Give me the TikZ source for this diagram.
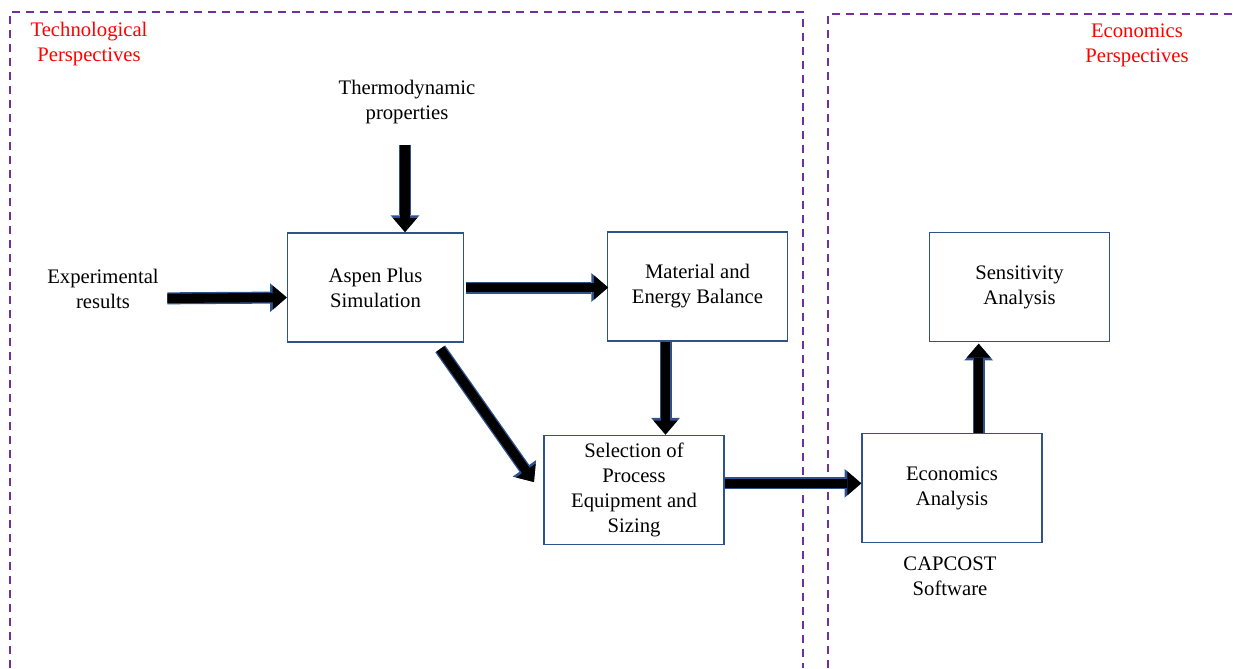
\documentclass[tikz,border=0pt]{standalone}
\usepackage{fontspec}
\setmainfont{Liberation Serif}
\usepackage{tikz}
\usetikzlibrary{arrows.meta}
\usepackage{xcolor}
\definecolor{boxblue}{RGB}{47,82,143}
\definecolor{dashpurple}{RGB}{112,48,160}

\tikzset{
    stage/.style={draw=boxblue, line width=1.1pt, minimum width=135pt, minimum height=82pt, align=center},
    label/.style={align=center},
    side/.style={align=center, text=red},
    blockarrow/.style={draw=black, line width=7pt, -{Triangle[length=10.5pt,width=18pt,line width=0pt]},
        preaction={draw=boxblue, line width=9pt, -{Triangle[length=12.5pt,width=21.5pt,line width=0pt]}}},
    region/.style={draw=dashpurple, line width=1.1pt, dash pattern=on 6pt off 4.5pt}
}

\begin{document}
\begin{tikzpicture}[x=0.75pt, y=-0.75pt, font=\fontsize{15.5}{18.8}\selectfont]
    \useasboundingbox (0,0) rectangle (1235,668);
    \draw[region] (10,668) -- (10,12) -- (803,12) -- (803,668);
    \draw[region] (828,668) -- (828,14) -- (1235,14);

    \node[side] (tech) at (89,44) {Technological\\Perspectives};
    \node[side] (ecoside) at (1137,45) {Economics\\Perspectives};

    \node[label] (thermo) at (407,102) {Thermodynamic\\properties};
    \node[label] (expt) at (103,289) {Experimental\\results};
    \node[label] (capcost) at (950,576) {CAPCOST\\Software};

    \node[stage, minimum width=132pt] (aspen) at (375.5,287.5) {Aspen Plus\\Simulation};
    \node[stage] (balance) at (697.5,286.5) {Material and\\Energy Balance};
    \node[stage] (selection) at (634,490) {Selection of\\Process\\Equipment and\\Sizing};
    \node[stage] (econ) at (952,488) {Economics\\Analysis};
    \node[stage] (sensitivity) at (1019.5,287) {Sensitivity\\Analysis};

    \draw[blockarrow] ([xshift=-1.5pt,yshift=-12pt]thermo.south) -- ([xshift=-1.5pt]thermo.south |- aspen.north);
    \draw[blockarrow] ([yshift=-7pt,xshift=3pt]expt.east) -- ([yshift=-7.5pt]aspen.west);
    \draw[blockarrow] ([xshift=1pt]aspen.east) -- ([xshift=1pt]aspen.east -| balance.west);
    \draw[blockarrow] ([xshift=-24pt]balance.south) -- ([xshift=-24pt]balance.south |- selection.north);
    \draw[blockarrow] ([xshift=-18pt,yshift=-4.5pt]aspen.south east) -- ([xshift=-7pt,yshift=6pt]selection.west);
    \draw[blockarrow] ([yshift=5pt]selection.east) -- ([yshift=5pt]selection.east -| econ.west);
    \draw[blockarrow] ([xshift=20pt]econ.north) -- ([xshift=20pt,yshift=-1pt]econ.north |- sensitivity.south);
\end{tikzpicture}
\end{document}
